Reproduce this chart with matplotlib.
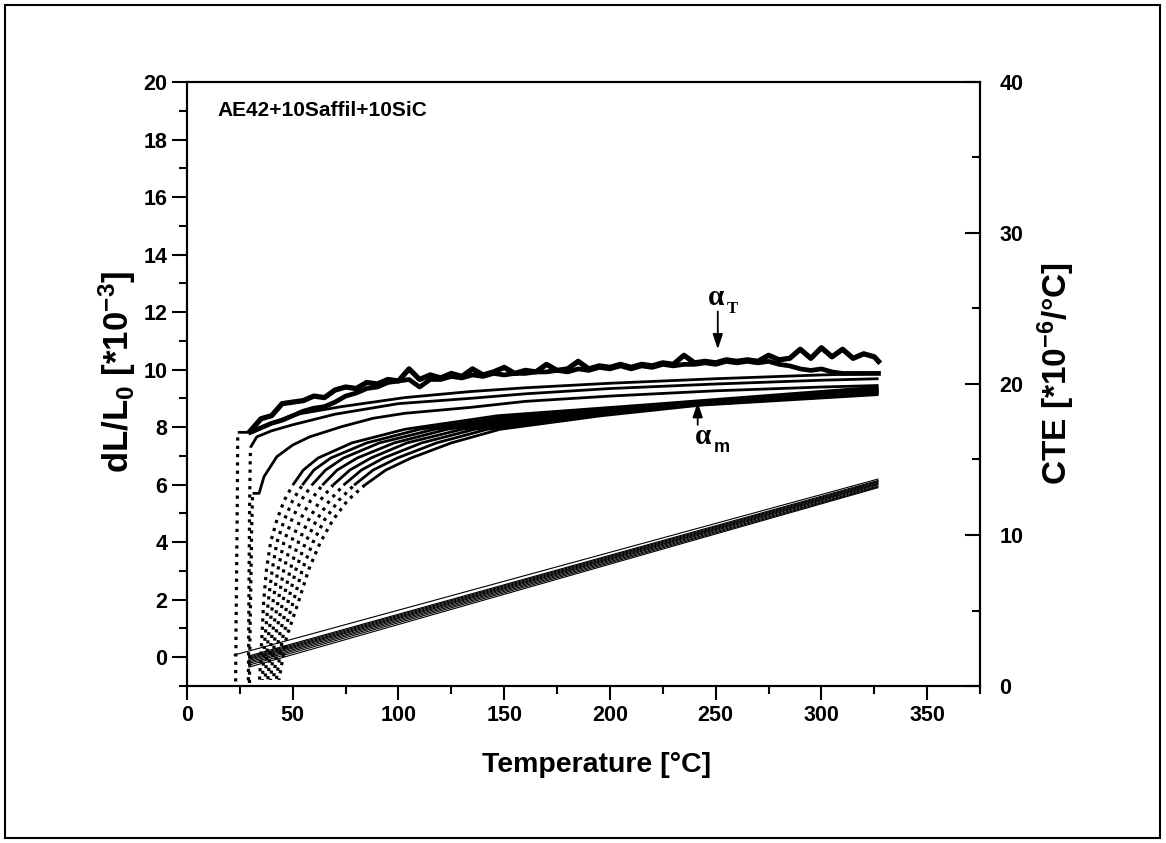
import numpy as np
import matplotlib
matplotlib.use('Agg')
import matplotlib.pyplot as plt
from matplotlib.patches import Rectangle
from matplotlib.ticker import MultipleLocator

plt.rcParams['font.family'] = ['Liberation Sans', 'DejaVu Sans']
plt.rcParams['font.weight'] = 'bold'
plt.rcParams['axes.labelweight'] = 'bold'
plt.rcParams['mathtext.fontset'] = 'custom'
plt.rcParams['mathtext.rm'] = 'Liberation Sans:bold'
plt.rcParams['mathtext.it'] = 'Liberation Sans:bold'
plt.rcParams['mathtext.bf'] = 'Liberation Sans:bold'
plt.rcParams['mathtext.default'] = 'rm'

# ---------------- data ----------------
# straight dL/L0 lines (left axis, 1e-3)
lin_T_start = [22.0, 29.0, 29.0, 29.0, 29.0, 29.0, 29.0, 29.0, 29.0, 29.0]
lin_L_start = [0.07, -0.35, -0.28, -0.22, -0.17, -0.12, -0.08, -0.04, 0.0, 0.04]
lin_T_end = [327.0] * 10
lin_L_end = [6.20, 5.90, 5.93, 5.96, 6.00, 6.03, 6.06, 6.09, 6.12, 6.15]

# mean CTE curves (alpha_m), right axis, CTE in 1e-6/K
am_A_T = [23.0, 23.2, 23.5, 23.8, 24.0, 31.0, 40.0, 50.0, 73.0, 103.0, 134.0, 160.0, 200.0, 250.0, 300.0, 327.0]
am_A_C = [0.3, 4.0, 8.0, 12.5, 16.8, 16.8, 17.4, 17.95, 18.5, 19.1, 19.5, 19.75, 20.05, 20.35, 20.6, 20.7]
am_B_T = [29.0, 29.3, 29.6, 30.0, 33.0, 40.0, 50.0, 70.0, 100.0, 134.0, 160.0, 200.0, 250.0, 300.0, 327.0]
am_B_C = [0.0, 6.0, 12.0, 15.8, 16.5, 16.9, 17.3, 18.0, 18.7, 19.05, 19.35, 19.7, 20.0, 20.25, 20.35]
am_C_T = [29.5, 29.8, 30.2, 30.6, 31.0, 34.1, 36.4, 42.5, 50.0, 58.0, 73.0, 88.0, 103.0, 134.0, 160.0, 200.0, 250.0, 300.0, 327.0]
am_C_C = [0.0, 3.5, 7.0, 10.5, 12.76, 12.76, 13.86, 15.19, 15.96, 16.5, 17.17, 17.73, 18.06, 18.45, 18.85, 19.2, 19.55, 19.8, 19.9]

# dotted family: CTE levels shared, temperature at which each curve reaches them
am_D_levels = [0.4, 3.2, 5.7, 7.7, 9.5, 11.0, 12.3, 13.3, 14.3, 15.1, 16.1, 17.0, 17.9, 18.6]
am_D1_T = [34.3, 35.4, 36.3, 37.6, 39.5, 42.5, 46.0, 50.0, 55.0, 62.0, 78.0, 103.0, 147.0, 215.0]
am_D2_T = [35.6, 36.9, 38.5, 40.3, 42.5, 46.0, 50.0, 54.5, 60.0, 68.0, 85.0, 110.0, 155.0, 221.0]
am_D3_T = [36.9, 38.4, 40.8, 43.0, 45.8, 49.5, 54.0, 59.0, 65.5, 74.0, 91.0, 117.0, 162.0, 225.0]
am_D4_T = [38.2, 40.0, 43.2, 45.8, 49.2, 53.5, 58.5, 64.0, 71.0, 80.5, 98.0, 123.0, 169.0, 229.0]
am_D5_T = [39.5, 41.6, 45.5, 48.8, 52.6, 57.5, 63.0, 69.0, 77.0, 87.0, 104.0, 130.0, 176.0, 233.0]
am_D6_T = [40.8, 43.4, 48.0, 51.5, 56.0, 61.3, 67.5, 74.0, 82.5, 93.0, 111.0, 136.0, 183.0, 237.0]
am_D7_T = [42.2, 45.2, 50.5, 54.5, 59.5, 65.0, 71.8, 79.0, 88.0, 99.5, 118.0, 142.0, 189.0, 240.0]
am_D8_T = [43.5, 47.0, 53.0, 57.5, 63.0, 69.0, 76.0, 84.0, 94.0, 106.0, 125.0, 148.0, 196.0, 243.0]
am_D_end_T = 327.0
am_D_end_C = [19.80, 19.72, 19.65, 19.58, 19.50, 19.43, 19.36, 19.30]

# true CTE curves (alpha_T), right axis
aT_T = [30, 35, 40, 45, 50, 55, 60, 65, 70, 75, 80, 85, 90, 95, 100, 105, 110, 115, 120, 125,
        130, 135, 140, 145, 150, 155, 160, 165, 170, 175, 180, 185, 190, 195, 200, 205, 210, 215,
        220, 225, 230, 235, 240, 245, 250, 255, 260, 265, 270, 275, 280, 285, 290, 295, 300, 305,
        310, 315, 320, 325, 327]
aT_upper = [16.9, 17.7, 17.9, 18.7, 18.8, 18.9, 19.2, 19.1, 19.6, 19.8, 19.7, 20.1, 20.0, 20.3, 20.2,
            21.0, 20.3, 20.6, 20.4, 20.7, 20.5, 21.0, 20.6, 20.8, 21.1, 20.7, 20.9, 20.8, 21.3, 20.9,
            21.0, 21.5, 21.0, 21.2, 21.1, 21.3, 21.1, 21.3, 21.2, 21.4, 21.3, 21.9, 21.4, 21.5, 21.4,
            21.6, 21.5, 21.6, 21.5, 21.9, 21.6, 21.7, 22.3, 21.7, 22.4, 21.8, 22.3, 21.7, 22.0, 21.8, 21.5]
aT_lower = [16.8, 17.1, 17.4, 17.6, 17.9, 18.2, 18.4, 18.5, 18.8, 19.2, 19.4, 19.7, 19.8, 20.1, 20.2,
            20.3, 19.8, 20.3, 20.3, 20.5, 20.4, 20.6, 20.5, 20.7, 20.6, 20.7, 20.7, 20.8, 20.8, 20.9,
            20.8, 21.0, 20.9, 21.1, 21.0, 21.2, 21.0, 21.2, 21.1, 21.3, 21.2, 21.3, 21.3, 21.4, 21.3,
            21.5, 21.4, 21.5, 21.4, 21.5, 21.3, 21.2, 21.0, 20.9, 21.0, 20.8, 20.7, 20.7, 20.7, 20.7, 20.7]

x_major_ticks = [0, 50, 100, 150, 200, 250, 300, 350]
title_text = 'AE42+10Saffil+10SiC'

# ---------------- figure ----------------
fig = plt.figure(figsize=(11.66, 8.43), dpi=100)
fig.patches.append(Rectangle((5 / 1166, 5 / 843), 1155 / 1166, 833 / 843,
                             transform=fig.transFigure, fill=False, lw=1.5, edgecolor='k'))
ax = fig.add_axes([187 / 1166, 157 / 843, 793 / 1166, 604 / 843])
ax2 = ax.twinx()

for i in range(len(lin_T_start)):
    ax.plot([lin_T_start[i], lin_T_end[i]], [lin_L_start[i], lin_L_end[i]],
            color='k', lw=0.8, solid_capstyle='butt')

# alpha_m curves: (T, CTE, index where the solid part starts)
am_curves = [(am_A_T, am_A_C, 4), (am_B_T, am_B_C, 3), (am_C_T, am_C_C, 4)]
d_T_lists = [am_D1_T, am_D2_T, am_D3_T, am_D4_T, am_D5_T, am_D6_T, am_D7_T, am_D8_T]
for j, dT in enumerate(d_T_lists):
    am_curves.append((dT + [am_D_end_T], am_D_levels + [am_D_end_C[j]], 7))

for j, (T, C, k) in enumerate(am_curves):
    ax2.plot(T[:k + 1], C[:k + 1], color='k', lw=2.3,
             ls=((j * 0.83) % 2.6, (1, 1.6)), dash_capstyle='butt')
    ax2.plot(T[k:], C[k:], color='k', lw=2.0, solid_capstyle='butt')

ax2.plot(aT_T, aT_lower, color='k', lw=3.4, solid_joinstyle='round')
ax2.plot(aT_T, aT_upper, color='k', lw=3.8, solid_joinstyle='round')

# axes limits and ticks
ax.set_xlim(0, 375)
ax.set_ylim(-1, 20)
ax2.set_ylim(0, 40)
ax.set_xticks(x_major_ticks)
ax.xaxis.set_minor_locator(MultipleLocator(25))
ax.set_yticks([0, 2, 4, 6, 8, 10, 12, 14, 16, 18, 20])
ax.yaxis.set_minor_locator(MultipleLocator(1))
ax2.yaxis.set_major_locator(MultipleLocator(10))
ax2.yaxis.set_minor_locator(MultipleLocator(5))

for a in (ax, ax2):
    for s in a.spines.values():
        s.set_linewidth(1.5)

ax.tick_params(axis='x', which='major', direction='out', length=10, width=1.5, pad=4,
               labelsize=15.5, top=False)
ax.tick_params(axis='x', which='minor', direction='out', length=6, width=1.5, top=False)
ax.tick_params(axis='y', which='major', direction='out', length=11, width=1.5, pad=3,
               labelsize=15.5, right=False)
ax.tick_params(axis='y', which='minor', direction='out', length=6, width=1.5, right=False)
ax2.tick_params(axis='y', which='major', direction='in', length=11, width=1.5, pad=14,
                labelsize=15.5)
ax2.tick_params(axis='y', which='minor', direction='in', length=6, width=1.5)

ax.set_xlabel('Temperature [°C]', fontsize=20.5)
ax.xaxis.set_label_coords(0.517, -0.109)
ax.set_ylabel(r'dL/L$_0$ [*10$^{-3}$]', fontsize=25)
ax.yaxis.set_label_coords(-0.0618, 0.52)
ax2.set_ylabel(r'CTE [*10$^{-6}$/°C]', fontsize=24)
ax2.yaxis.set_label_coords(1.0706, 0.517)

ax.text(0.039, 0.953, title_text, transform=ax.transAxes, fontsize=15,
        ha='left', va='center', fontweight='bold')

# alpha annotations
arrow_style = dict(arrowstyle='-|>,head_length=0.6,head_width=0.2', color='k', lw=1.3,
                   mutation_scale=15, shrinkA=0, shrinkB=0)
ax2.annotate('', xy=(251, 22.3), xytext=(251, 24.8), arrowprops=arrow_style)
ax2.text(250, 25.7, 'α', fontsize=21, family='Liberation Serif', fontweight='bold',
         ha='center', va='center')
ax2.text(258, 24.95, 'T', fontsize=12, family='Liberation Serif', fontweight='bold',
         ha='center', va='center')
ax2.annotate('', xy=(241.5, 18.8), xytext=(241.5, 17.3), arrowprops=arrow_style)
ax2.text(244, 16.55, 'α', fontsize=21, family='Liberation Serif', fontweight='bold',
         ha='center', va='center')
ax2.text(253, 15.8, 'm', fontsize=13, ha='center', va='center')

fig.savefig('out.png', dpi=100)
